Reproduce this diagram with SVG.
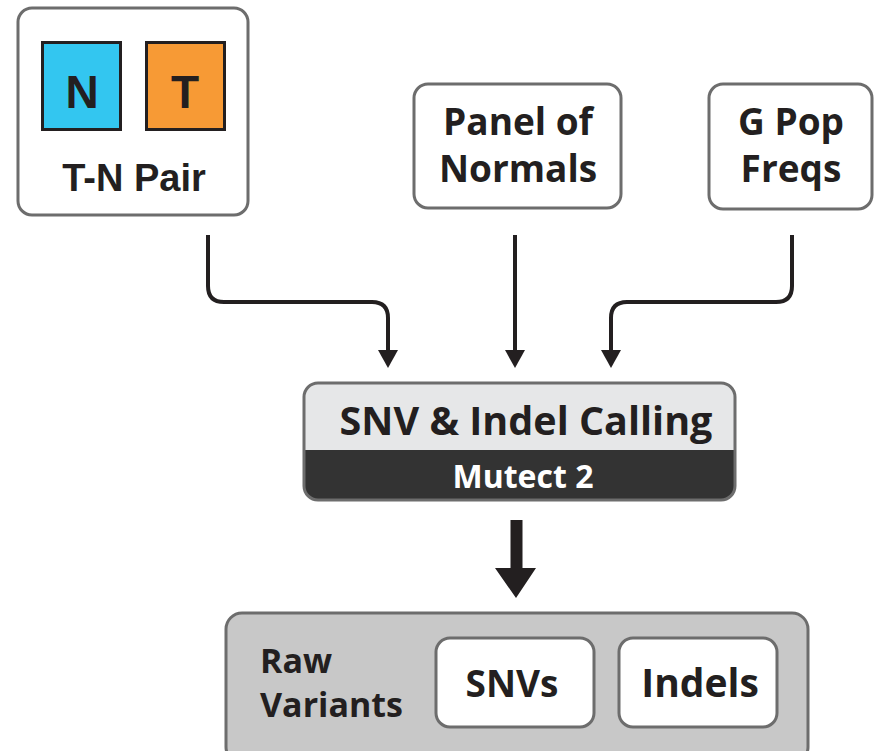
<svg xmlns="http://www.w3.org/2000/svg" width="876" height="751" viewBox="0 0 876 751">
<style>
.box{fill:#fff;stroke:#6d6d6d;stroke-width:3}
.t{font-family:"Open Sans","Noto Sans",sans-serif;font-weight:700;fill:#231f20;text-anchor:middle}
.a{font-family:"Liberation Sans",Arial,sans-serif;font-weight:700;fill:#231f20;text-anchor:middle}
.conn{fill:none;stroke:#231f20;stroke-width:4}
.sq{stroke:#231f20;stroke-width:3}
</style>
<defs>
<marker id="ah" markerWidth="5" markerHeight="5" refX="0" refY="2.5" orient="auto" markerUnits="strokeWidth"><path d="M0,0 L4.5,2.5 L0,5 Z" fill="#231f20"/></marker>
</defs>
<rect width="876" height="751" fill="#fff"/>
<g id="tn-pair">
<rect class="box" x="18" y="8" width="230" height="207" rx="14"/>
<rect class="sq" x="42.5" y="42.5" width="78" height="87" fill="#33c6f0"/>
<rect class="sq" x="146.5" y="42.5" width="78" height="87" fill="#f79a35"/>
<text class="a" x="82" y="108" font-size="46">N</text>
<text class="a" x="185" y="108" font-size="46">T</text>
<text class="a" x="134" y="191" font-size="38">T-N Pair</text>
</g>
<g id="panel-of-normals">
<rect class="box" x="414" y="84" width="207" height="124" rx="14"/>
<text class="t" x="518" y="135" font-size="37">Panel of</text>
<text class="t" x="518" y="182" font-size="37">Normals</text>
</g>
<g id="g-pop-freqs">
<rect class="box" x="709" y="84" width="163" height="125" rx="14"/>
<text class="t" x="791" y="135" font-size="37">G Pop</text>
<text class="t" x="791" y="182" font-size="37">Freqs</text>
</g>
<g id="connectors">
<path class="conn" d="M208,235 V286 Q208,302 224,302 H372 Q388,302 388,318 V350" marker-end="url(#ah)"/>
<path class="conn" d="M515,235 V350" marker-end="url(#ah)"/>
<path class="conn" d="M792,235 V286 Q792,302 776,302 H627 Q611,302 611,318 V350" marker-end="url(#ah)"/>
<path d="M510.5,520 H522.5 V568 H536 L516,598 L495,568 H510.5 Z" fill="#231f20"/>
</g>
<g id="snv-indel-calling">
<clipPath id="c1"><rect x="304" y="383" width="431" height="117" rx="14"/></clipPath>
<g clip-path="url(#c1)">
<rect x="304" y="383" width="431" height="117" fill="#e6e7e8"/>
<rect x="304" y="450" width="431" height="50" fill="#333333"/>
</g>
<rect x="304" y="383" width="431" height="117" rx="14" fill="none" stroke="#6d6d6d" stroke-width="3"/>
<text class="t" x="526" y="435" font-size="39.5">SNV &amp; Indel Calling</text>
<text class="t" x="523" y="488" font-size="32" style="fill:#fff">Mutect 2</text>
</g>
<g id="raw-variants">
<rect x="226" y="613" width="582" height="150" rx="16" fill="#c8c8c8" stroke="#6d6d6d" stroke-width="3"/>
<text class="t" x="260" y="673" font-size="34" style="text-anchor:start">Raw</text>
<text class="t" x="260" y="717" font-size="34" style="text-anchor:start">Variants</text>
</g>
<g id="snvs">
<rect class="box" x="436" y="638" width="158" height="89" rx="14"/>
<text class="t" x="512" y="697" font-size="37">SNVs</text>
</g>
<g id="indels">
<rect class="box" x="619" y="638" width="158" height="89" rx="14"/>
<text class="t" x="700" y="697" font-size="39">Indels</text>
</g>
</svg>
